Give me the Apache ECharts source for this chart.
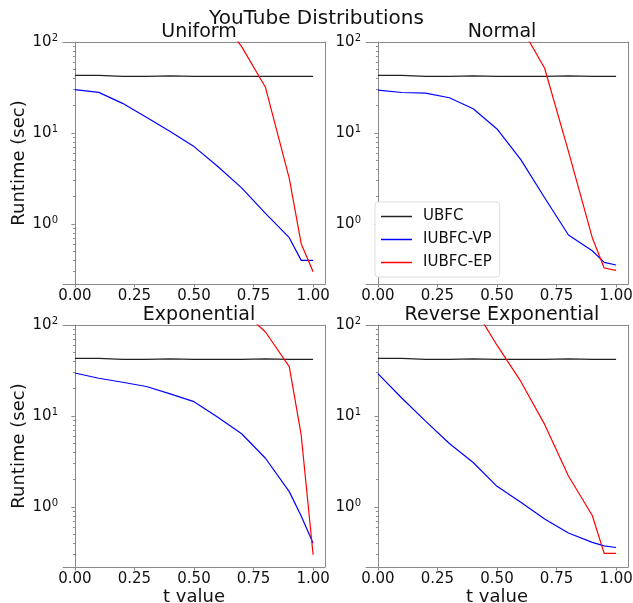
<!DOCTYPE html>
<html>
<head>
<meta charset="utf-8">
<script src="https://cdn.jsdelivr.net/npm/echarts@6/dist/echarts.min.js"></script>
<style>
  html, body { margin: 0; padding: 0; background: #fff; }
  #chart { width: 633px; height: 603px; }
</style>
</head>
<body>
<div id="chart"></div>
<script>
// t values shared by every panel
const tValues = [0, 0.1, 0.2, 0.3, 0.4, 0.5, 0.6, 0.7, 0.8, 0.9, 0.95, 1.0];

const panelTitles = ['Uniform', 'Normal', 'Exponential', 'Reverse Exponential'];
const seriesNames = ['UBFC', 'IUBFC-VP', 'IUBFC-EP'];

// UBFC (almost flat)
const ubfcUniform = [43, 43, 42, 42, 42.5, 42, 42, 42, 42, 42, 42, 42];
const ubfcNormal = [43, 43, 42, 42, 42.5, 42, 42, 42, 42.5, 42, 42, 42];
const ubfcExponential = [43, 43, 42, 42, 42.5, 42, 42, 42, 42.5, 42, 42, 42];
const ubfcReverse = [43, 43, 42, 42, 42.5, 42, 42, 42, 42.5, 42, 42, 42];

// IUBFC-VP
const vpUniform = [30, 28, 21.2, 14.9, 10.4, 7.1, 4.3, 2.5, 1.31, 0.71, 0.40, 0.40];
const vpNormal = [29.6, 27.9, 27.5, 24.4, 18.5, 11.1, 5.1, 1.95, 0.76, 0.51, 0.38, 0.356];
const vpExponential = [29.7, 26, 23.5, 21.1, 17.5, 14.4, 9.7, 6.4, 3.44, 1.48, 0.80, 0.40];
const vpReverse = [29.2, 15.8, 8.8, 5.0, 3.09, 1.69, 1.13, 0.74, 0.52, 0.41, 0.376, 0.36];

// IUBFC-EP (above 100 for small t, off the chart)
const epUniform = [null, null, null, null, null, null, 200, 89, 31.8, 3.18, 0.61, 0.30];
const epNormal = [null, null, null, null, null, null, 148, 51.5, 6.3, 0.71, 0.33, 0.31];
const epExponential = [null, null, null, null, null, null, null, 146, 83.8, 34.9, 6.2, 0.30];
const epReverse = [null, null, null, null, 160, 60, 24, 8.1, 2.2, 0.81, 0.31, 0.31];

const xTicks = [0, 0.25, 0.5, 0.75, 1.0];
const yTicks = [1, 10, 100];
const yMinorTicks = [0.3, 0.4, 0.5, 0.6, 0.7, 0.8, 0.9, 2, 3, 4, 5, 6, 7, 8, 9, 20, 30, 40, 50, 60, 70, 80, 90];

const panels = [
    [ubfcUniform, vpUniform, epUniform],
    [ubfcNormal, vpNormal, epNormal],
    [ubfcExponential, vpExponential, epExponential],
    [ubfcReverse, vpReverse, epReverse]
];

const colors = ['#222222', '#0000ff', '#ff0000'];
const FONT = 'DejaVu Sans';
const axisGray = '#8a8a8a';

// fixed plot areas (no auto shrinking for labels)
const grids = [
    {left: 63, top: 42, width: 262, height: 242, outerBoundsMode: 'none', containLabel: false},
    {left: 366, top: 42, width: 262, height: 242, outerBoundsMode: 'none', containLabel: false},
    {left: 63, top: 325, width: 262, height: 242, outerBoundsMode: 'none', containLabel: false},
    {left: 366, top: 325, width: 262, height: 242, outerBoundsMode: 'none', containLabel: false}
];

const pairs = function (ys) {
    return tValues.map(function (t, i) { return [t, ys[i]]; });
};

let xAxes = [], yAxes = [], series = [], titles = [];

titles.push({
    text: 'YouTube Distributions',
    left: 'center',
    top: 4,
    textStyle: {fontFamily: FONT, fontSize: 20, fontWeight: 'normal', color: '#111'}
});

grids.forEach(function (g, i) {
    const bottomRow = i >= 2;
    const leftCol = i % 2 === 0;
    titles.push({
        text: panelTitles[i],
        left: g.left + g.width / 2,
        top: g.top - 24,
        textAlign: 'center',
        textStyle: {fontFamily: FONT, fontSize: 19, fontWeight: 'normal', color: '#111'}
    });
    xAxes.push({
        type: 'value',
        gridIndex: i,
        min: -0.05,
        max: 1.05,
        name: bottomRow ? 't value' : '',
        nameLocation: 'middle',
        nameGap: 20,
        nameTextStyle: {fontFamily: FONT, fontSize: 18, color: '#111'},
        axisLine: {show: true, onZero: false, lineStyle: {color: axisGray, width: 1}},
        axisTick: {show: true, inside: false, length: 3.5, customValues: xTicks, lineStyle: {color: axisGray}},
        axisLabel: {
            customValues: xTicks,
            margin: 5,
            fontFamily: FONT, fontSize: 15, color: '#111',
            formatter: function (v) { return v.toFixed(2); }
        },
        splitLine: {show: false}
    });
    // mirror axis on top to close the frame
    xAxes.push({
        type: 'value',
        gridIndex: i,
        position: 'top',
        min: -0.05,
        max: 1.05,
        axisLine: {show: true, onZero: false, lineStyle: {color: axisGray, width: 1}},
        axisTick: {show: false},
        axisLabel: {show: false},
        splitLine: {show: false}
    });
    yAxes.push({
        type: 'log',
        logBase: 10,
        gridIndex: i,
        min: 0.22,
        max: 100,
        name: leftCol ? 'Runtime (sec)' : '',
        nameLocation: 'middle',
        nameGap: 32,
        nameTextStyle: {fontFamily: FONT, fontSize: 18, color: '#111'},
        axisLine: {show: true, lineStyle: {color: axisGray, width: 1}},
        axisTick: {show: true, length: 3.5, customValues: yTicks, lineStyle: {color: axisGray}},
        axisLabel: {
            customValues: yTicks,
            margin: 5,
            fontFamily: FONT, fontSize: 15, color: '#111',
            formatter: function (v) {
                return '10{sup|' + Math.round(Math.log10(v)) + '}';
            },
            rich: {
                sup: {fontFamily: FONT, fontSize: 10, color: '#111', verticalAlign: 'top', padding: [0, 0, 8, 0]}
            }
        },
        splitLine: {show: false}
    });
    // minor ticks
    yAxes.push({
        type: 'log',
        logBase: 10,
        gridIndex: i,
        min: 0.22,
        max: 100,
        position: 'left',
        axisLine: {show: false},
        axisTick: {show: true, length: 2, customValues: yMinorTicks, lineStyle: {color: axisGray}},
        axisLabel: {show: false},
        splitLine: {show: false}
    });
    // right border
    yAxes.push({
        type: 'log',
        logBase: 10,
        gridIndex: i,
        min: 0.22,
        max: 100,
        position: 'right',
        axisLine: {show: true, lineStyle: {color: axisGray, width: 1}},
        axisTick: {show: false},
        axisLabel: {show: false},
        splitLine: {show: false}
    });
    panels[i].forEach(function (ys, k) {
        series.push({
            name: seriesNames[k],
            type: 'line',
            xAxisIndex: i * 2,
            yAxisIndex: i * 3,
            data: pairs(ys),
            showSymbol: false,
            symbol: 'none',
            clip: true,
            connectNulls: false,
            lineStyle: {color: colors[k], width: 1.2},
            itemStyle: {color: colors[k]},
            silent: true,
            animation: false
        });
    });
});

let myChart = echarts.init(document.getElementById('chart'), null, {renderer: 'canvas'});

const option = {
    animation: false,
    color: colors,
    title: titles,
    grid: grids,
    xAxis: xAxes,
    yAxis: yAxes,
    legend: {
        data: seriesNames,
        orient: 'vertical',
        left: 375,
        top: 202,
        icon: 'rect',
        itemWidth: 31,
        itemHeight: 1.5,
        itemGap: 8,
        padding: [7, 8, 7, 6],
        backgroundColor: '#fff',
        borderColor: '#dddddd',
        borderWidth: 1,
        borderRadius: 3,
        textStyle: {fontFamily: FONT, fontSize: 15, color: '#111', padding: [0, 0, 0, 6]}
    },
    series: series
};

myChart.setOption(option);
</script>
</body>
</html>
